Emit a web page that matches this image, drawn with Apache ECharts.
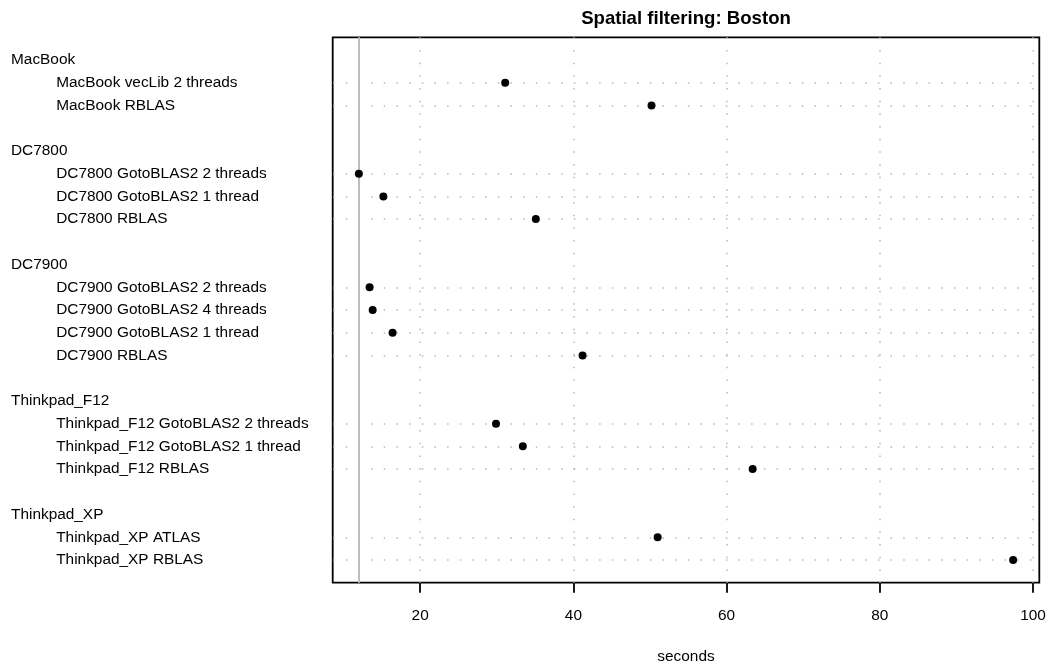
<!DOCTYPE html>
<html>
<head>
<meta charset="utf-8">
<script src="https://cdn.jsdelivr.net/npm/echarts@6/dist/echarts.min.js"></script>
<style>
html,body{margin:0;padding:0;background:#fff;}
#chart{width:1049px;height:664px;}
</style>
</head>
<body>
<div id="chart"></div>
<script>
const groupNames = ['MacBook', 'DC7800', 'DC7900', 'Thinkpad_F12', 'Thinkpad_XP'];
const itemNames = [
  'MacBook vecLib 2 threads', 'MacBook RBLAS',
  'DC7800 GotoBLAS2 2 threads', 'DC7800 GotoBLAS2 1 thread', 'DC7800 RBLAS',
  'DC7900 GotoBLAS2 2 threads', 'DC7900 GotoBLAS2 4 threads', 'DC7900 GotoBLAS2 1 thread', 'DC7900 RBLAS',
  'Thinkpad_F12 GotoBLAS2 2 threads', 'Thinkpad_F12 GotoBLAS2 1 thread', 'Thinkpad_F12 RBLAS',
  'Thinkpad_XP ATLAS', 'Thinkpad_XP RBLAS'
];
const itemGroup = [0, 0, 1, 1, 1, 2, 2, 2, 2, 3, 3, 3, 4, 4];
const seconds = [31.1, 50.2, 12.0, 15.2, 35.1, 13.4, 13.8, 16.4, 41.2, 29.9, 33.4, 63.4, 51.0, 97.4];
const xTicks = [20, 40, 60, 80, 100];
const titleText = 'Spatial filtering: Boston';
const xLabel = 'seconds';

// row positions (R dotchart style: header, items, blank gap)
const headerSlot = [];
const itemSlot = [];
let slot = 0;
groupNames.forEach(function (g, gi) {
  headerSlot.push(slot++);
  itemGroup.forEach(function (ig, i) { if (ig === gi) itemSlot[i] = slot++; });
  slot++;
});
const lastSlot = slot - 2;
const headerMap = {}; headerSlot.forEach(function (s, i) { headerMap[s] = groupNames[i]; });
const itemMap = {}; itemSlot.forEach(function (s, i) { itemMap[s] = itemNames[i]; });

const dMin = Math.min.apply(null, seconds), dMax = Math.max.apply(null, seconds);
const pad = 0.04 * (dMax - dMin);

const FONT = '"Liberation Sans", Arial, Helvetica, sans-serif';
const FS = 15.4;
const chart = echarts.init(document.getElementById('chart'));
const dotted = { color: '#b8b8b8', width: 1.5, type: [1.5, 11.17] };

chart.setOption({
  animation: false,
  backgroundColor: '#fff',
  textStyle: { fontFamily: FONT },
  title: {
    text: titleText, left: 686, top: 9, textAlign: 'center', padding: 0,
    textStyle: { fontFamily: FONT, fontWeight: 'bold', fontSize: 18.6, color: '#000' }
  },
  grid: {
    left: 332.7, right: 9.7, top: 37.3, bottom: 81.3,
    outerBoundsMode: 'none', containLabel: false,
    show: true, borderColor: '#000', borderWidth: 1.8, backgroundColor: 'transparent'
  },
  xAxis: {
    type: 'value', min: dMin - pad, max: dMax + pad,
    axisLine: { show: false, onZero: false },
    axisTick: { show: true, customValues: xTicks, length: 10, inside: false, lineStyle: { color: '#000', width: 1.8 } },
    axisLabel: { customValues: xTicks, margin: 26, fontSize: FS, color: '#000', fontFamily: FONT },
    splitLine: { show: false },
    name: xLabel, nameLocation: 'middle', nameGap: 67,
    nameTextStyle: { fontSize: FS, color: '#000', fontFamily: FONT }
  },
  yAxis: [
    {
      type: 'value', min: -1, max: lastSlot + 1, inverse: true, position: 'left',
      axisLine: { show: false, onZero: false }, axisTick: { show: false }, splitLine: { show: false },
      axisLabel: {
        customValues: headerSlot, align: 'left', margin: 321.7, fontSize: FS, color: '#000', fontFamily: FONT,
        formatter: function (v) { return headerMap[v] || ''; }
      }
    },
    {
      type: 'value', min: -1, max: lastSlot + 1, inverse: true, position: 'left', offset: 0,
      axisLine: { show: false, onZero: false }, axisTick: { show: false }, splitLine: { show: false },
      axisLabel: {
        customValues: itemSlot, align: 'left', margin: 276.5, fontSize: FS, color: '#000', fontFamily: FONT,
        formatter: function (v) { return itemMap[v] || ''; }
      }
    }
  ],
  series: [
    {
      type: 'line', data: [], xAxisIndex: 0, yAxisIndex: 0, silent: true,
      markLine: {
        silent: true, symbol: 'none', label: { show: false },
        lineStyle: Object.assign({ dashOffset: 12.3 }, dotted),
        data: itemSlot.map(function (s) { return { yAxis: s }; })
      }
    },
    {
      type: 'line', data: [], xAxisIndex: 0, yAxisIndex: 0, silent: true,
      markLine: {
        silent: true, symbol: 'none', label: { show: false },
        lineStyle: dotted,
        data: xTicks.map(function (t) { return { xAxis: t }; })
      }
    },
    {
      type: 'line', data: [], xAxisIndex: 0, yAxisIndex: 0, silent: true,
      markLine: {
        silent: true, symbol: 'none', label: { show: false },
        lineStyle: { color: '#bebebe', width: 2, type: 'solid' },
        data: [{ xAxis: dMin }]
      }
    },
    {
      type: 'scatter', xAxisIndex: 0, yAxisIndex: 0, silent: true,
      symbol: 'circle', symbolSize: 8,
      itemStyle: { color: '#000', opacity: 1 },
      data: seconds.map(function (v, i) { return [v, itemSlot[i]]; }),
      z: 5
    }
  ]
});
</script>
</body>
</html>
